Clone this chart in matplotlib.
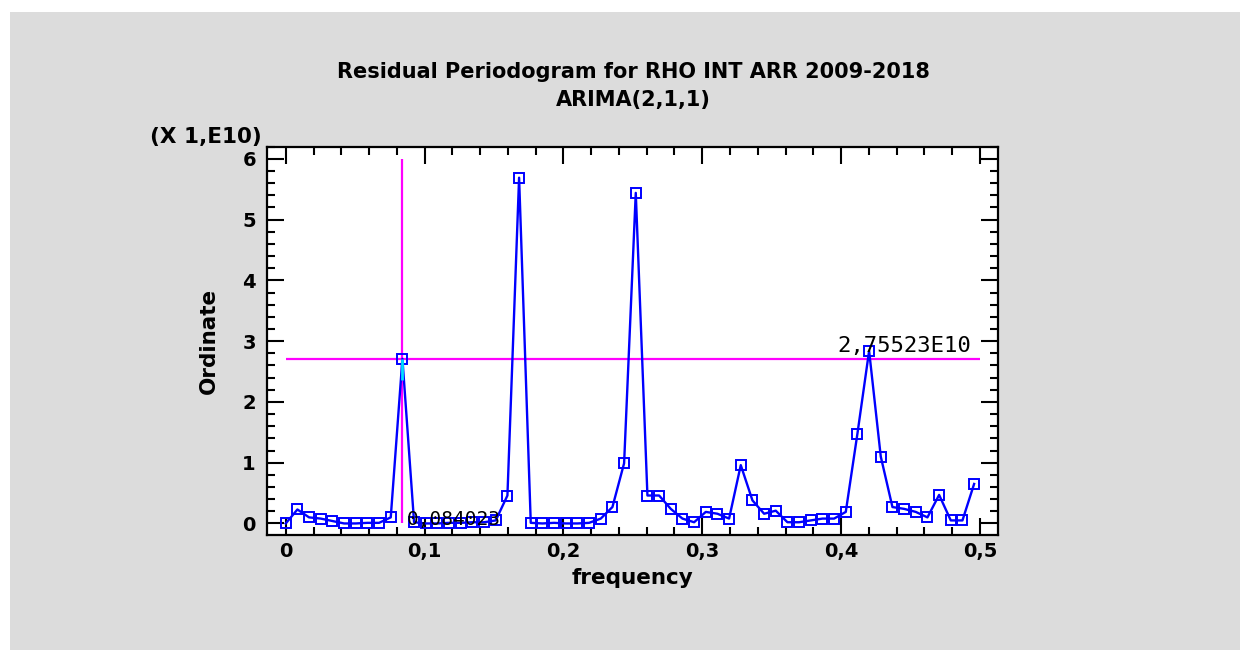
import numpy as np
import matplotlib.pyplot as plt
from matplotlib.patches import Rectangle
from matplotlib.ticker import MultipleLocator, FuncFormatter

plt.rcParams['font.family'] = ['DejaVu Sans']

# Periodogram ordinates (x 1E10), one per Fourier frequency k/119
n_obs = 119
ordinate = [0.00, 0.23, 0.10, 0.08, 0.04, 0.00, 0.00, 0.01, 0.01, 0.10,
            2.71, 0.02, 0.00, 0.00, 0.01, 0.01, 0.02, 0.02, 0.05, 0.46,
            5.69, 0.01, 0.00, 0.01, 0.00, 0.00, 0.01, 0.08, 0.27, 0.99,
            5.44, 0.46, 0.46, 0.24, 0.08, 0.02, 0.19, 0.16, 0.08, 0.96,
            0.38, 0.16, 0.21, 0.02, 0.02, 0.05, 0.08, 0.08, 0.19, 1.48,
            2.84, 1.10, 0.27, 0.24, 0.19, 0.10, 0.47, 0.05, 0.05, 0.65]
freq = np.arange(len(ordinate)) / n_obs

cursor_idx = 10
cursor_x_label = '0,084023'
cursor_y_label = '2,75523E10'

fig = plt.figure(figsize=(12.5, 6.62), dpi=100)
fig.patch.set_facecolor('white')
fig.patches.append(Rectangle((10 / 1250, 12 / 662), 1230 / 1250, 638 / 662,
                             transform=fig.transFigure, facecolor='#dcdcdc',
                             edgecolor='none', zorder=-10))

ax = fig.add_axes([267 / 1250, 1 - 535 / 662, 731 / 1250, 388.3 / 662])
ax.set_facecolor('white')

# cursor cross-hair
ax.vlines(freq[cursor_idx], 0, 6, color='#ff00ff', lw=1.6, zorder=2)
ax.hlines(ordinate[cursor_idx], 0, 0.5, color='#ff00ff', lw=1.6, zorder=2)
ax.vlines(freq[cursor_idx], ordinate[cursor_idx] - 0.35, ordinate[cursor_idx],
          color='#00e0ff', lw=2, zorder=4)

ax.plot(freq, ordinate, color='#0000ff', lw=1.7, marker='s', markersize=6.5,
        markerfacecolor='none', markeredgecolor='#0000ff', markeredgewidth=1.4,
        zorder=3)

ax.text(freq[cursor_idx] + 0.003, 0.06, cursor_x_label, family='DejaVu Sans Mono',
        fontsize=14, color='black', ha='left', va='center', zorder=5)
ax.text(0.494, ordinate[cursor_idx] + 0.05, cursor_y_label, family='DejaVu Sans Mono',
        fontsize=16, color='black', ha='right', va='bottom', zorder=5)

ax.set_xlim(-0.0135, 0.513)
ax.set_ylim(-0.19, 6.2)
ax.xaxis.set_major_locator(MultipleLocator(0.1))
ax.xaxis.set_minor_locator(MultipleLocator(0.02))
ax.yaxis.set_major_locator(MultipleLocator(1))
ax.yaxis.set_minor_locator(MultipleLocator(0.2))
ax.xaxis.set_major_formatter(FuncFormatter(lambda v, p: ('%g' % round(v, 2)).replace('.', ',')))
ax.yaxis.set_major_formatter(FuncFormatter(lambda v, p: '%g' % v))
ax.tick_params(which='both', direction='in', top=True, right=True, width=1.5, color='black')
ax.tick_params(which='major', length=12, labelsize=14, pad=5)
ax.tick_params(axis='y', which='major', pad=8)
ax.tick_params(which='minor', length=6)
for lab in ax.get_xticklabels() + ax.get_yticklabels():
    lab.set_fontweight('bold')
for s in ax.spines.values():
    s.set_linewidth(1.6)

ax.set_xlabel('frequency', fontsize=15.5, fontweight='bold', labelpad=5)
ax.set_ylabel('Ordinate', fontsize=15.5, fontweight='bold', labelpad=17)

fig.text(633 / 1250, 1 - 72 / 662, 'Residual Periodogram for RHO INT ARR 2009-2018',
         ha='center', va='center', fontsize=15, fontweight='bold')
fig.text(633 / 1250, 1 - 100 / 662, 'ARIMA(2,1,1)',
         ha='center', va='center', fontsize=15, fontweight='bold')
fig.text(150 / 1250, 1 - 137 / 662, '(X 1,E10)', ha='left', va='center',
         fontsize=15.5, fontweight='bold')

plt.savefig('out.png', dpi=100)
